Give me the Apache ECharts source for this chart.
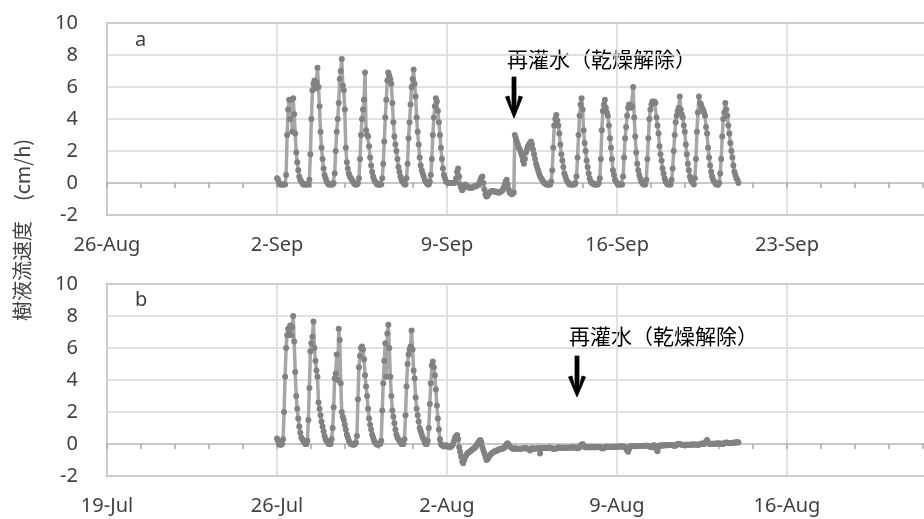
<!DOCTYPE html>
<html><head><meta charset="utf-8">
<script src="https://cdn.jsdelivr.net/npm/echarts@6/dist/echarts.min.js"></script>
<style>html,body{margin:0;padding:0;background:#fff}#c{width:924px;height:519px}</style>
</head><body><div id="c"></div>
<script>
const monthNames = ['Jan','Feb','Mar','Apr','May','Jun','Jul','Aug','Sep','Oct','Nov','Dec'];
const yMin = -2, yMax = 10, yStep = 2;
const axisStartA = Date.UTC(2015, 7, 26);   // 26-Aug
const dataStartA = Date.UTC(2015, 8, 2);    // 2-Sep 00:00, hourly values
const axisStartB = Date.UTC(2015, 6, 19);   // 19-Jul
const dataStartB = Date.UTC(2015, 6, 26);   // 26-Jul 00:00, hourly values
const panelLabels = ['a', 'b'];
const noteText = '再灌水（乾燥解除）';
const yTitle = '樹液流速度　(cm/h)';

// Panel a: hourly sap flow (cm/h), 2-Sep .. 21-Sep
const sapFlowA = [
 0.3,0.2,0.0,-0.1,-0.1,-0.1,-0.1,-0.1,-0.1,0.5,3.0,4.6,5.2,4.0,5.2,3.2,5.3,4.3,3.1,1.9,1.3,0.8,0.4,0.2,
 0.1,0.0,-0.1,-0.1,-0.1,-0.1,-0.1,-0.1,0.2,1.8,4.0,5.8,6.2,6.4,5.9,6.3,7.2,6.0,4.8,3.2,2.2,1.5,0.9,0.5,
 0.3,0.1,0.0,-0.1,-0.1,-0.1,-0.1,-0.1,0.0,0.6,2.0,3.2,4.0,5.0,6.5,7.0,7.75,6.1,5.8,4.6,2.2,1.3,0.9,0.6,
 0.4,0.3,0.2,0.1,0.0,-0.1,-0.1,-0.1,0.0,0.3,1.5,3.0,4.0,4.6,5.2,6.9,3.3,3.0,2.9,2.3,1.6,1.1,0.7,0.4,
 0.2,0.1,0.0,-0.1,-0.1,-0.1,-0.1,-0.1,0.3,1.2,2.6,4.1,5.2,6.4,6.9,6.7,6.5,6.2,5.0,3.8,2.9,2.4,2.0,1.5,
 1.0,0.7,0.4,0.2,0.1,0.0,-0.1,-0.1,0.3,1.2,2.8,3.8,4.9,6.0,6.5,7.1,6.2,5.4,4.1,3.2,2.4,1.6,1.1,0.8,
 0.6,0.4,0.2,0.1,0.0,-0.1,-0.1,0.1,0.5,1.5,3.0,4.1,4.8,5.3,5.1,4.5,3.8,3.0,2.2,1.5,0.9,0.5,0.3,0.1,
 0.05,0.0,0.0,0.0,0.0,0.0,0.0,0.0,0.05,0.3,0.7,0.9,0.4,-0.1,-0.3,-0.45,-0.35,-0.2,-0.1,-0.15,-0.2,-0.25,-0.3,-0.3,
 -0.3,-0.3,-0.25,-0.2,-0.2,-0.2,-0.15,-0.1,0.0,0.2,0.35,0.4,0.0,-0.4,-0.7,-0.85,-0.8,-0.7,-0.6,-0.55,-0.5,-0.5,-0.5,-0.55,
 -0.55,-0.55,-0.6,-0.6,-0.6,-0.55,-0.5,-0.45,-0.3,-0.1,0.1,0.2,-0.1,-0.4,-0.6,-0.65,-0.7,-0.65,-0.6,3.0,2.8,2.6,2.4,2.2,
 2.1,1.9,1.7,1.4,1.2,1.5,1.9,2.1,2.3,2.4,2.5,2.6,2.4,2.1,1.8,1.5,1.2,1.0,0.8,0.6,0.4,0.3,0.2,0.1,
 0.0,0.0,-0.1,-0.1,-0.1,-0.1,-0.1,0.1,0.8,2.2,3.6,4.0,4.25,3.9,3.6,3.1,2.4,1.8,1.4,1.0,0.6,0.4,0.2,0.1,
 0.0,-0.1,-0.1,-0.1,-0.1,-0.1,-0.1,0.0,0.4,1.6,3.0,4.2,4.9,5.3,4.6,3.3,2.5,2.0,1.4,1.0,0.6,0.3,0.1,0.0,
 0.0,-0.1,-0.1,-0.1,-0.1,-0.1,0.0,0.3,1.5,3.3,4.5,4.9,5.2,4.7,4.4,4.2,3.6,2.8,2.2,1.5,0.8,0.5,0.2,0.1,
 0.0,-0.1,-0.1,-0.1,-0.1,-0.1,0.4,1.6,2.8,3.5,4.2,4.7,4.9,4.8,4.7,4.8,6.0,4.1,2.9,1.9,1.2,0.8,0.5,0.3,
 0.1,0.0,-0.1,-0.1,-0.1,0.2,1.5,2.8,4.0,4.6,4.9,5.1,5.0,5.1,5.0,4.1,3.6,3.1,2.3,1.8,1.4,0.9,0.6,0.3,
 0.1,0.0,-0.1,-0.1,-0.1,-0.1,0.2,0.9,2.0,3.0,3.8,4.2,4.5,4.7,5.4,4.6,4.3,4.1,3.6,3.2,2.4,1.8,1.2,0.8,
 0.4,0.2,0.1,0.0,-0.1,0.3,1.5,3.2,4.4,5.4,5.0,4.9,4.7,4.6,4.4,4.2,3.5,3.1,2.2,1.6,1.1,0.7,0.4,0.2,
 0.1,0.0,-0.1,-0.1,-0.1,0.0,0.6,1.5,2.9,4.0,4.4,5.0,4.6,4.2,3.6,3.1,2.5,2.0,1.6,1.1,0.7,0.5,0.3,0.2,
 0.0
];

// Panel b: hourly sap flow (cm/h), 26-Jul .. 14-Aug
const sapFlowB = [
 0.35,0.2,0.0,-0.05,-0.05,0.0,0.3,2.0,4.2,6.0,6.8,7.2,7.0,7.4,6.8,7.3,8.0,6.4,4.5,3.0,2.2,1.6,1.1,0.7,
 0.4,0.3,0.2,0.1,0.0,0.0,0.2,1.5,3.5,5.8,6.3,6.7,7.65,6.0,5.2,4.6,4.2,2.6,2.2,1.8,1.4,1.1,0.8,0.5,
 0.3,0.2,0.1,0.0,0.0,0.0,0.3,1.0,2.3,4.1,4.4,5.6,4.0,7.2,6.5,3.8,2.0,1.7,1.5,1.2,0.9,0.6,0.4,0.2,
 0.1,0.0,0.0,-0.05,-0.05,0.0,0.1,0.5,2.8,4.8,5.5,6.0,6.1,5.9,5.3,4.3,3.6,3.0,2.2,1.6,1.2,0.9,0.6,0.4,
 0.2,0.1,0.0,-0.05,-0.05,0.0,0.0,0.2,2.1,3.8,5.2,6.3,4.2,6.9,7.45,6.0,4.2,3.0,2.1,1.7,1.3,0.9,0.6,0.4,
 0.3,0.2,0.1,0.0,0.0,0.0,0.3,1.8,3.6,5.0,5.6,5.9,6.1,7.1,5.9,4.6,4.1,2.9,2.2,1.8,1.4,1.0,0.8,0.6,
 0.4,0.3,0.1,0.0,0.0,0.2,1.0,2.5,3.8,4.9,5.15,4.8,4.3,3.4,2.4,1.6,0.9,0.3,0.0,-0.1,-0.1,-0.15,-0.1,-0.1,
 -0.1,-0.15,-0.2,-0.2,-0.15,-0.1,0.0,0.2,0.4,0.5,0.56,0.3,-0.2,-0.5,-0.8,-1.1,-1.2,-1.0,-0.8,-0.7,-0.6,-0.55,-0.5,-0.45,
 -0.4,-0.35,-0.3,-0.25,-0.2,-0.1,0.0,0.1,0.2,0.25,0.1,-0.2,-0.4,-0.6,-0.8,-1.0,-0.95,-0.85,-0.75,-0.65,-0.6,-0.55,-0.5,-0.45,
 -0.45,-0.4,-0.4,-0.35,-0.35,-0.3,-0.3,-0.3,-0.25,-0.2,-0.1,0.0,0.05,-0.05,-0.15,-0.2,-0.25,-0.3,-0.3,-0.3,-0.28,-0.28,-0.3,-0.3,
 -0.3,-0.3,-0.28,-0.28,-0.27,-0.27,-0.27,-0.26,-0.3,-0.35,-0.4,-0.3,-0.25,-0.28,-0.3,-0.3,-0.28,-0.27,-0.27,-0.27,-0.6,-0.26,-0.25,-0.25,
 -0.25,-0.25,-0.25,-0.25,-0.24,-0.24,-0.24,-0.25,-0.28,-0.3,-0.32,-0.3,-0.26,-0.25,-0.22,-0.22,-0.23,-0.24,-0.24,-0.24,-0.23,-0.23,-0.23,-0.23,
 -0.23,-0.23,-0.22,-0.22,-0.22,-0.22,-0.22,-0.22,-0.25,-0.27,-0.25,-0.2,-0.1,-0.05,0.0,-0.1,-0.18,-0.2,-0.21,-0.21,-0.21,-0.2,-0.2,-0.2,
 -0.2,-0.2,-0.2,-0.2,-0.19,-0.19,-0.19,-0.2,-0.22,-0.25,-0.28,-0.25,-0.2,-0.18,-0.17,-0.17,-0.18,-0.18,-0.18,-0.18,-0.17,-0.17,-0.17,-0.17,
 -0.17,-0.17,-0.16,-0.16,-0.16,-0.16,-0.16,-0.17,-0.2,-0.3,-0.4,-0.48,-0.3,-0.15,-0.12,-0.12,-0.13,-0.14,-0.14,-0.14,-0.13,-0.13,-0.13,-0.12,
 -0.12,-0.12,-0.12,-0.11,-0.11,-0.11,-0.11,-0.12,-0.15,-0.18,-0.2,-0.15,-0.1,-0.08,-0.2,-0.35,-0.45,-0.2,-0.1,-0.1,-0.09,-0.09,-0.09,-0.08,
 -0.08,-0.08,-0.08,-0.07,-0.07,-0.07,-0.07,-0.08,-0.1,-0.12,-0.1,-0.05,0.0,0.02,0.0,-0.03,-0.05,-0.06,-0.06,-0.05,-0.05,-0.05,-0.04,-0.04,
 -0.04,-0.04,-0.03,-0.03,-0.03,-0.03,-0.03,-0.04,-0.06,-0.05,0.0,0.02,0.03,0.02,0.0,0.05,0.15,0.25,0.1,0.02,0.0,0.01,0.01,0.01,
 0.02,0.02,0.03,0.03,0.03,0.03,0.03,0.02,0.0,0.02,0.05,0.08,0.1,0.08,0.06,0.05,0.06,0.07,0.08,0.08,0.09,0.1,0.1,0.12,
 0.1
];

const DAY = 86400000, HOUR = 3600000;
const FONT = '"Noto Sans", "Noto Sans CJK JP", sans-serif';
const TXT = '#404040';

function toPoints(start, vals) { return vals.map((v, i) => [start + i * HOUR, v]); }
function fmtDate(v) { const d = new Date(v); return d.getUTCDate() + '-' + monthNames[d.getUTCMonth()]; }

const grids = [
  { left: 107, top: 23, width: 850, height: 192 },
  { left: 107, top: 284, width: 850, height: 192 }
].map(g => Object.assign(g, { show: true, borderColor: '#a6a6a6', borderWidth: 2, backgroundColor: 'transparent', containLabel: false, outerBoundsMode: 'none' }));

function xAxisFor(gi, start) {
  return {
    type: 'value', gridIndex: gi, min: start, max: start + 35 * DAY, interval: 7 * DAY,
    axisLine: { show: true, onZero: true, lineStyle: { color: '#bfbfbf', width: 1.5 } },
    axisTick: { show: true, length: 5, lineStyle: { color: '#a6a6a6', width: 1.5 } },
    minorTick: { show: true, splitNumber: 5, length: 5, lineStyle: { color: '#a6a6a6', width: 1.5 } },
    minorSplitLine: { show: false },
    axisLabel: { margin: 20, fontSize: 20, color: TXT, fontFamily: FONT, formatter: fmtDate, showMaxLabel: false },
    splitLine: { show: true, lineStyle: { color: '#d9d9d9', width: 1.5 } }
  };
}
function yAxisFor(gi) {
  return {
    type: 'value', gridIndex: gi, min: yMin, max: yMax, interval: yStep,
    axisLine: { show: false }, axisTick: { show: false },
    axisLabel: { margin: 29, fontSize: 20, color: TXT, fontFamily: FONT },
    splitLine: { show: true, lineStyle: { color: '#d9d9d9', width: 1.5 } }
  };
}
function seriesFor(gi, start, vals) {
  return {
    type: 'line', xAxisIndex: gi, yAxisIndex: gi, data: toPoints(start, vals),
    symbol: 'circle', symbolSize: 6, showAllSymbol: true,
    lineStyle: { color: '#a6a6a6', width: 3.5 }, itemStyle: { color: '#828282' },
    emphasis: { disabled: true }, silent: true
  };
}

// downward arrow drawn as one filled outline
function arrow(x, y1, y2, headTop) {
  return {
    type: 'polygon', z: 100,
    shape: { points: [
      [x - 2, y1], [x + 2, y1], [x + 2, y2 - 9], [x + 5, headTop], [x + 8.5, headTop + 1],
      [x, y2], [x - 8.5, headTop + 1], [x - 5, headTop], [x - 2, y2 - 9]
    ] },
    style: { fill: '#000', stroke: '#000', lineWidth: 0.8 }
  };
}

const chart = echarts.init(document.getElementById('c'), null, { renderer: 'canvas' });
chart.setOption({
  animation: false,
  backgroundColor: '#fff',
  grid: grids,
  xAxis: [xAxisFor(0, axisStartA), xAxisFor(1, axisStartB)],
  yAxis: [yAxisFor(0), yAxisFor(1)],
  series: [seriesFor(0, dataStartA, sapFlowA), seriesFor(1, dataStartB, sapFlowB)],
  graphic: [
    { type: 'text', x: 22, y: 230, rotation: Math.PI / 2,
      style: { text: yTitle, font: '20px "Noto Sans CJK JP", sans-serif', fill: TXT, align: 'center', verticalAlign: 'middle' } },
    { type: 'text', x: 135, y: 40, style: { text: panelLabels[0], font: '20px "Noto Sans", sans-serif', fill: TXT, verticalAlign: 'middle' } },
    { type: 'text', x: 135, y: 300, style: { text: panelLabels[1], font: '20px "Noto Sans", sans-serif', fill: TXT, verticalAlign: 'middle' } },
    { type: 'text', x: 507, y: 59, style: { text: noteText, font: '21px "Noto Sans CJK JP", sans-serif', fill: '#000', verticalAlign: 'middle' } },
    { type: 'text', x: 569, y: 336, style: { text: noteText, font: '21px "Noto Sans CJK JP", sans-serif', fill: '#000', verticalAlign: 'middle' } },
    arrow(514, 77, 118, 96),
    arrow(577, 356, 397, 376)
  ]
});
</script>
</body></html>
